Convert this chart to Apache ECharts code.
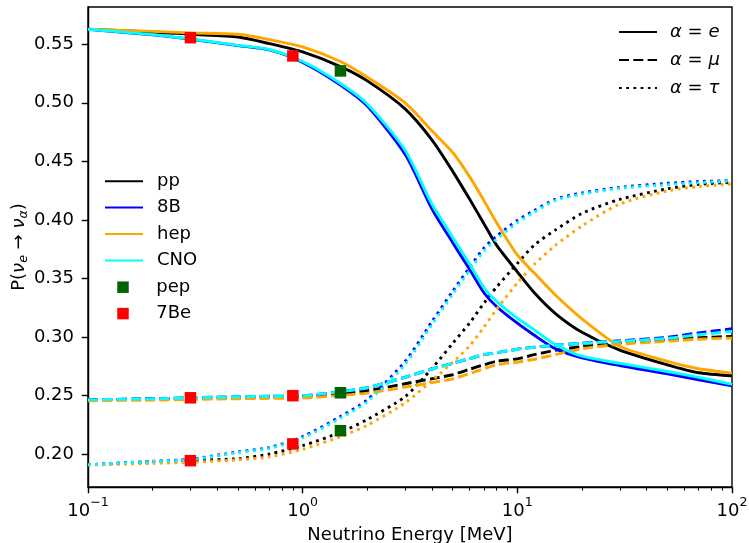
<!DOCTYPE html>
<html>
<head>
<meta charset="utf-8">
<script src="https://cdn.jsdelivr.net/npm/echarts@6/dist/echarts.min.js"></script>
<style>html,body{margin:0;padding:0;background:#fff}#c{width:749px;height:543px}</style>
</head>
<body>
<div id="c"></div>
<script>
// ---- data ----
const energy = [0.1, 0.2, 0.3, 0.5, 0.7, 1, 1.5, 2, 3, 4, 5, 6, 7, 8, 10, 12, 15, 20, 30, 50, 70, 100];

const ppE   = [0.5628, 0.5605, 0.5585, 0.5562, 0.5505, 0.5434, 0.5309, 0.5187, 0.4948, 0.4683, 0.4414, 0.4175, 0.3965, 0.3784, 0.3556, 0.3377, 0.3202, 0.3040, 0.2888, 0.2762, 0.2694, 0.2668];
const ppMu  = [0.2463, 0.2470, 0.2475, 0.2480, 0.2485, 0.2490, 0.2515, 0.2540, 0.2600, 0.2643, 0.2677, 0.2724, 0.2762, 0.2792, 0.2813, 0.2848, 0.2886, 0.2916, 0.2950, 0.2976, 0.2993, 0.3004];
const ppTau = [0.1908, 0.1932, 0.1945, 0.1960, 0.2000, 0.2072, 0.2185, 0.2295, 0.2490, 0.2730, 0.2945, 0.3120, 0.3290, 0.3425, 0.3627, 0.3785, 0.3912, 0.4055, 0.4175, 0.4265, 0.4303, 0.4320];

const b8E   = [0.5628, 0.5580, 0.5543, 0.5488, 0.5451, 0.5345, 0.5152, 0.4972, 0.4560, 0.4094, 0.3805, 0.3575, 0.3375, 0.3260, 0.3117, 0.3014, 0.2900, 0.2822, 0.2756, 0.2685, 0.2634, 0.2583];
const b8Mu  = [0.2463, 0.2472, 0.2480, 0.2489, 0.2493, 0.2498, 0.2532, 0.2566, 0.2655, 0.2726, 0.2775, 0.2815, 0.2849, 0.2865, 0.2895, 0.2912, 0.2929, 0.2946, 0.2967, 0.2997, 0.3035, 0.3070];
const b8Tau = [0.1908, 0.1938, 0.1955, 0.2018, 0.2055, 0.2148, 0.2320, 0.2463, 0.2790, 0.3130, 0.3390, 0.3595, 0.3760, 0.3860, 0.3995, 0.4080, 0.4175, 0.4229, 0.4277, 0.4312, 0.4327, 0.4335];

const hepE   = [0.5628, 0.5610, 0.5597, 0.5585, 0.5540, 0.5477, 0.5352, 0.5218, 0.4999, 0.4760, 0.4575, 0.4367, 0.4162, 0.3977, 0.3700, 0.3545, 0.3360, 0.3155, 0.2920, 0.2791, 0.2728, 0.2691];
const hepMu  = [0.2455, 0.2460, 0.2465, 0.2472, 0.2475, 0.2478, 0.2500, 0.2520, 0.2571, 0.2609, 0.2642, 0.2688, 0.2728, 0.2762, 0.2784, 0.2809, 0.2848, 0.2899, 0.2937, 0.2963, 0.2980, 0.2990];
const hepTau = [0.1905, 0.1920, 0.1930, 0.1950, 0.1975, 0.2040, 0.2148, 0.2245, 0.2436, 0.2627, 0.2783, 0.2925, 0.3085, 0.3235, 0.3460, 0.3620, 0.3780, 0.3948, 0.4135, 0.4247, 0.4285, 0.4307];

const cnoE   = [0.5628, 0.5582, 0.5545, 0.5490, 0.5455, 0.5352, 0.5165, 0.4990, 0.4595, 0.4135, 0.3850, 0.3620, 0.3420, 0.3305, 0.3160, 0.3060, 0.2935, 0.2835, 0.2775, 0.2705, 0.2655, 0.2595];
const cnoMu  = [0.2463, 0.2472, 0.2480, 0.2489, 0.2493, 0.2498, 0.2532, 0.2566, 0.2655, 0.2726, 0.2775, 0.2815, 0.2849, 0.2865, 0.2895, 0.2912, 0.2929, 0.2946, 0.2962, 0.2988, 0.3018, 0.3047];
const cnoTau = [0.1908, 0.1936, 0.1952, 0.2012, 0.2048, 0.2138, 0.2305, 0.2445, 0.2765, 0.3105, 0.3365, 0.3570, 0.3735, 0.3835, 0.3975, 0.4065, 0.4165, 0.4220, 0.4270, 0.4300, 0.4318, 0.4332];

const pepEnergy = [1.5];
const pepE = [0.5272], pepMu = [0.2523], pepTau = [0.2199];
const be7Energy = [0.3, 0.9];
const be7E = [0.5556, 0.5400], be7Mu = [0.2480, 0.2498], be7Tau = [0.1943, 0.2086];

const yTicks = [0.20, 0.25, 0.30, 0.35, 0.40, 0.45, 0.50, 0.55];
const xMinorTicks = [0.2,0.3,0.4,0.5,0.6,0.7,0.8,0.9,2,3,4,5,6,7,8,9,20,30,40,50,60,70,80,90];

// ---- build chart ----
const FONT = 'DejaVu Sans';
const LW = 2.9;
const DASH = [10, 4.3];
const DOT = [2.8, 4.4];
const zip = (xs, ys) => xs.map((x, i) => [x, ys[i]]);

const sources = [
  {name: 'pp',  color: '#000000', e: ppE,  mu: ppMu,  tau: ppTau},
  {name: '8B',  color: '#0000ff', e: b8E,  mu: b8Mu,  tau: b8Tau},
  {name: 'hep', color: '#ffa500', e: hepE, mu: hepMu, tau: hepTau},
  {name: 'CNO', color: '#00ffff', e: cnoE, mu: cnoMu, tau: cnoTau}
];

const series = [];
sources.forEach(s => {
  [['', s.e, 'solid'], [' μ', s.mu, DASH], [' τ', s.tau, DOT]].forEach(([suf, ys, type]) => {
    series.push({
      type: 'line', name: s.name + suf, data: zip(energy, ys),
      symbol: 'circle', showSymbol: false, smooth: 0.25, silent: true,
      lineStyle: {color: s.color, width: LW, type: type, cap: 'butt'},
      itemStyle: {color: s.color}
    });
  });
});
series.push({
  type: 'scatter', name: 'pep', symbol: 'rect', symbolSize: 11.5, silent: true,
  itemStyle: {color: '#006400', opacity: 1}, z: 5,
  data: [].concat(zip(pepEnergy, pepE), zip(pepEnergy, pepMu), zip(pepEnergy, pepTau))
});
series.push({
  type: 'scatter', name: '7Be', symbol: 'rect', symbolSize: 11.5, silent: true,
  itemStyle: {color: '#ff0000', opacity: 1}, z: 5,
  data: [].concat(zip(be7Energy, be7E), zip(be7Energy, be7Mu), zip(be7Energy, be7Tau))
});
// flavour legend entries (no data)
[['α = e', 'solid'], ['α = μ', DASH], ['α = τ', DOT]].forEach(([n, t]) => {
  series.push({type: 'line', name: n, data: [], symbol: 'circle', showSymbol: false,
    lineStyle: {color: '#000', width: LW, type: t, cap: 'butt'}, itemStyle: {color: '#000'}});
});

const flavRich = {
  i: {fontFamily: FONT, fontSize: 18, fontStyle: 'italic', color: '#000'},
  n: {fontFamily: FONT, fontSize: 18, color: '#000'}
};
const hideSym = {opacity: 0};
const legText = {fontFamily: FONT, fontSize: 18, color: '#000', lineHeight: 26.4};

const option = {
  animation: false,
  backgroundColor: '#ffffff',
  grid: {left: 88, right: 17, top: 7, bottom: 56, show: true, borderColor: '#000', borderWidth: 1.4,
         backgroundColor: 'transparent', containLabel: false, outerBoundsMode: 'none'},
  xAxis: [
    {
      type: 'log', logBase: 10, min: 0.1, max: 100,
      name: 'Neutrino Energy [MeV]', nameLocation: 'middle', nameGap: 39, nameMoveOverlap: false,
      nameTextStyle: {fontFamily: FONT, fontSize: 18, color: '#000'},
      axisLine: {show: true, lineStyle: {color: '#000', width: 1.4}},
      axisTick: {show: true, length: 6.3, lineStyle: {color: '#000', width: 1.4}},
      splitLine: {show: false}, minorTick: {show: false}, minorSplitLine: {show: false},
      axisLabel: {
        margin: 9, color: '#000', hideOverlap: false,
        formatter: function (v) {
          const e = Math.round(Math.log10(v));
          return '{b|10}{s|' + (e < 0 ? '\u2212' : '') + Math.abs(e) + '}';
        },
        rich: {
          b: {fontFamily: FONT, fontSize: 18, lineHeight: 24, verticalAlign: 'bottom', color: '#000'},
          s: {fontFamily: FONT, fontSize: 12.6, lineHeight: 13, verticalAlign: 'top', color: '#000'}
        }
      }
    },
    {
      type: 'log', logBase: 10, min: 0.1, max: 100, position: 'bottom',
      axisLine: {show: false}, splitLine: {show: false},
      axisLabel: {show: false},
      axisTick: {show: true, length: 3.6, customValues: xMinorTicks, lineStyle: {color: '#000', width: 1.1}}
    }
  ],
  yAxis: {
    type: 'value', min: 0.1718, max: 0.5818,
    name: '{n|P(}{i|ν}{s|e}{n| → }{i|ν}{s|α}{n|)}', nameLocation: 'middle', nameGap: 58, nameRotate: 90, nameMoveOverlap: false,
    nameTextStyle: {
      fontFamily: FONT, fontSize: 18, color: '#000',
      rich: {
        n: {fontFamily: FONT, fontSize: 18, lineHeight: 22, color: '#000'},
        i: {fontFamily: FONT, fontSize: 18, lineHeight: 22, fontStyle: 'italic', color: '#000'},
        s: {fontFamily: FONT, fontSize: 12.6, lineHeight: 13, fontStyle: 'italic', verticalAlign: 'bottom', color: '#000'}
      }
    },
    axisLine: {show: true, lineStyle: {color: '#000', width: 1.4}},
    axisTick: {show: true, length: 6.3, customValues: yTicks, lineStyle: {color: '#000', width: 1.4}},
    splitLine: {show: false},
    axisLabel: {
      customValues: yTicks, margin: 14, fontFamily: FONT, fontSize: 18, color: '#000',
      formatter: v => v.toFixed(2)
    }
  },
  legend: [
    {
      orient: 'vertical', left: 104, top: 168, padding: 0, itemGap: 0,
      itemWidth: 38, itemHeight: 11, selectedMode: false,
      textStyle: Object.assign({padding: [0, 0, 0, 9]}, legText),
      data: [
        {name: 'pp', itemStyle: hideSym}, {name: '8B', itemStyle: hideSym},
        {name: 'hep', itemStyle: hideSym}, {name: 'CNO', itemStyle: hideSym}
      ]
    },
    {
      orient: 'vertical', left: 117.25, top: 274, padding: 0, itemGap: 0,
      itemWidth: 11.5, itemHeight: 11.5, selectedMode: false, icon: 'rect',
      textStyle: Object.assign({padding: [0, 0, 0, 22.5]}, legText),
      data: ['pep', '7Be']
    },
    {
      orient: 'vertical', left: 618, top: 18, padding: 0, itemGap: 0,
      itemWidth: 38, itemHeight: 11, selectedMode: false,
      itemStyle: hideSym,
      textStyle: {fontFamily: FONT, fontSize: 18, color: '#000', lineHeight: 28, padding: [0, 0, 0, 8], rich: flavRich},
      formatter: function (name) {
        const parts = name.split(' = ');
        return '{i|' + parts[0] + '}{n| = }{i|' + parts[1] + '}';
      },
      data: ['α = e', 'α = μ', 'α = τ']
    }
  ],
  series: series
};

const chart = echarts.init(document.getElementById('c'), null, {renderer: 'canvas'});
chart.setOption(option);
</script>
</body>
</html>
